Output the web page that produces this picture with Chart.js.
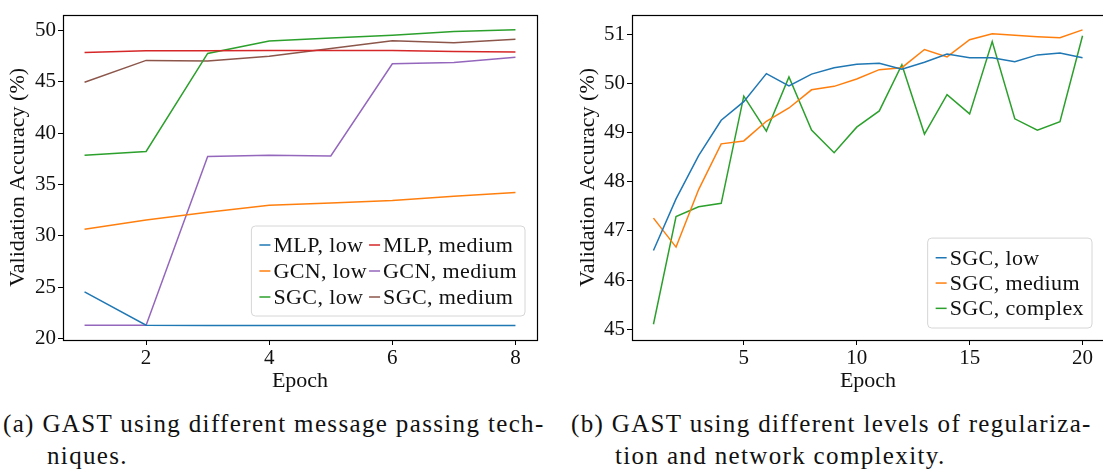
<!DOCTYPE html>
<html><head><meta charset="utf-8">
<script src="https://cdn.jsdelivr.net/npm/chart.js@4/dist/chart.umd.min.js"></script>
<style>
html,body{margin:0;padding:0;background:#fff;overflow:hidden;width:1103px;height:470px;}
#wrap{position:relative;width:1103px;height:470px;overflow:hidden;}
canvas{position:absolute;top:0;}
.cap{position:absolute;font-family:"Liberation Serif",serif;font-size:25px;letter-spacing:1.35px;color:#111;white-space:nowrap;line-height:1;}
</style></head><body>
<div id="wrap">
<canvas id="chartA" width="545" height="400" style="left:0"></canvas>
<canvas id="chartB" width="560" height="400" style="left:560px"></canvas>
<div class="cap" style="left:3px;top:411px">(a) GAST using different message passing tech-</div>
<div class="cap" style="left:47px;top:443px">niques.</div>
<div class="cap" style="left:571px;top:411px">(b) GAST using different levels of regulariza-</div>
<div class="cap" style="left:615px;top:443px">tion and network complexity.</div>
</div>
<script>
// ---- Data: chart (a) ----
const epochsA = [1, 2, 3, 4, 5, 6, 7, 8];
const mlpLow     = [24.55, 21.3, 21.28, 21.28, 21.28, 21.28, 21.28, 21.28];
const mlpMedium  = [47.85, 48.02, 48.03, 48.04, 48.04, 48.04, 47.95, 47.9];
const gcnLow     = [30.65, 31.55, 32.3, 32.98, 33.2, 33.45, 33.85, 34.22];
const gcnMedium  = [21.3, 21.3, 37.73, 37.85, 37.78, 46.75, 46.87, 47.38];
const sgcLowA    = [37.85, 38.22, 47.76, 48.98, 49.25, 49.53, 49.9, 50.06];
const sgcMediumA = [44.95, 47.08, 47.03, 47.48, 48.25, 49.0, 48.8, 49.15];
const xTicksA = [2, 4, 6, 8];
const yTicksA = [20, 25, 30, 35, 40, 45, 50];

// ---- Data: chart (b) ----
const epochsB = [1,2,3,4,5,6,7,8,9,10,11,12,13,14,15,16,17,18,19,20];
const sgcLowB     = [46.6, 47.65, 48.53, 49.25, 49.63, 50.2, 49.95, 50.19, 50.32, 50.39, 50.41, 50.29, 50.43, 50.6, 50.52, 50.52, 50.44, 50.58, 50.62, 50.52];
const sgcMediumB  = [47.26, 46.67, 47.84, 48.77, 48.83, 49.23, 49.5, 49.87, 49.94, 50.09, 50.28, 50.32, 50.69, 50.54, 50.89, 51.01, 50.98, 50.95, 50.93, 51.09];
const sgcComplexB = [45.1, 47.29, 47.49, 47.56, 49.74, 49.03, 50.13, 49.05, 48.59, 49.11, 49.44, 50.38, 48.97, 49.77, 49.38, 50.85, 49.28, 49.05, 49.22, 50.97];
const xTicksB = [5, 10, 15, 20];
const yTicksB = [45, 46, 47, 48, 49, 50, 51];

const C = {blue:'#1f77b4', orange:'#ff7f0e', green:'#2ca02c', red:'#d62728', purple:'#9467bd', brown:'#8c564b'};
const FONT = '"Liberation Serif", serif';
const TXT = '#111';

function pts(xs, ys){ return xs.map((x,i)=>({x:x, y:ys[i]})); }
function ds(label, xs, ys, color){
  return {label, data: pts(xs, ys), borderColor: color, backgroundColor: color,
          borderWidth: 1.5, pointRadius: 0, tension: 0, fill: false};
}

const frame = {
  id: 'frame',
  afterDatasetsDraw(chart){
    const a = chart.chartArea, ctx = chart.ctx;
    ctx.save(); ctx.strokeStyle = '#000'; ctx.lineWidth = 1.2;
    ctx.strokeRect(Math.round(a.left)+0.5, Math.round(a.top)+0.5, Math.round(a.right-a.left), Math.round(a.bottom-a.top));
    ctx.restore();
  }
};

// custom matplotlib-style legend: columns of dataset indices, drawn inside the plot
function legendPlugin(cfg){
  return {
    id: 'mplLegend',
    afterDraw(chart){
      const ctx = chart.ctx, a = chart.chartArea, dsets = chart.data.datasets;
      ctx.save();
      ctx.font = cfg.fontSize + 'px ' + FONT;
      if ('letterSpacing' in ctx) ctx.letterSpacing = cfg.spacing + 'px';
      const colW = cfg.columns.map(col => Math.max(...col.map(i => ctx.measureText(dsets[i].label).width)));
      const handle = 11, gap = 3, colGap = cfg.colGap, padX = 8, padY = cfg.padY;
      let w = padX*2 + cfg.columns.length*(handle+gap) + colW.reduce((s,v)=>s+v,0) + colGap*(cfg.columns.length-1);
      const rows = Math.max(...cfg.columns.map(c=>c.length));
      const h = padY*2 + rows*cfg.rowH;
      const x0 = a.right - cfg.right - w, y0 = a.bottom - cfg.bottom - h;
      ctx.beginPath();
      const r = 4;
      ctx.moveTo(x0+r, y0); ctx.lineTo(x0+w-r, y0); ctx.quadraticCurveTo(x0+w, y0, x0+w, y0+r);
      ctx.lineTo(x0+w, y0+h-r); ctx.quadraticCurveTo(x0+w, y0+h, x0+w-r, y0+h);
      ctx.lineTo(x0+r, y0+h); ctx.quadraticCurveTo(x0, y0+h, x0, y0+h-r);
      ctx.lineTo(x0, y0+r); ctx.quadraticCurveTo(x0, y0, x0+r, y0); ctx.closePath();
      ctx.fillStyle = 'rgba(255,255,255,0.8)'; ctx.fill();
      ctx.strokeStyle = '#d6d6d6'; ctx.lineWidth = 1; ctx.stroke();
      let cx = x0 + padX;
      cfg.columns.forEach((col, ci) => {
        col.forEach((idx, ri) => {
          const cy = y0 + padY + ri*cfg.rowH + cfg.rowH/2;
          ctx.strokeStyle = dsets[idx].borderColor; ctx.lineWidth = 1.5;
          ctx.beginPath(); ctx.moveTo(cx, cy); ctx.lineTo(cx+handle, cy); ctx.stroke();
          ctx.fillStyle = TXT; ctx.textBaseline = 'middle'; ctx.textAlign = 'left';
          ctx.fillText(dsets[idx].label, cx + handle + gap, cy + 1);
        });
        cx += handle + gap + colW[ci] + colGap;
      });
      ctx.restore();
    }
  };
}

function makeOptions(o){
  return {
    responsive: false, animation: false,
    layout: {padding: {left: 0, right: o.padRight, top: o.padTop, bottom: 0}},
    plugins: {legend: {display: false}, tooltip: {enabled: false}},
    scales: {
      x: {
        type: 'linear', min: o.xMin, max: o.xMax,
        afterBuildTicks: s => { s.ticks = o.xTicks.map(v => ({value: v})); },
        afterFit: s => { s.height = o.xAxisH; },
        grid: {drawOnChartArea: false, drawTicks: true, tickLength: 5, tickColor: '#000', tickWidth: 1},
        border: {display: false},
        ticks: {color: TXT, font: {family: FONT, size: 21}, padding: 1, maxRotation: 0, autoSkip: false},
        title: {display: true, text: 'Epoch', color: TXT, font: {family: FONT, size: 22}, padding: {top: 0, bottom: o.xTitlePad}}
      },
      y: {
        type: 'linear', min: o.yMin, max: o.yMax,
        afterBuildTicks: s => { s.ticks = o.yTicks.map(v => ({value: v})); },
        afterFit: s => { s.width = o.yAxisW; },
        grid: {drawOnChartArea: false, drawTicks: true, tickLength: 5, tickColor: '#000', tickWidth: 1},
        border: {display: false},
        ticks: {color: TXT, font: {family: FONT, size: 21}, padding: 2, autoSkip: false},
        title: {display: true, text: 'Validation Accuracy (%)', color: TXT, font: {family: FONT, size: 22}, padding: {top: o.yTitlePad, bottom: 0}}
      }
    }
  };
}

new Chart(document.getElementById('chartA'), {
  type: 'line',
  data: {datasets: [
    ds('MLP, low', epochsA, mlpLow, C.blue),
    ds('MLP, medium', epochsA, mlpMedium, C.red),
    ds('GCN, low', epochsA, gcnLow, C.orange),
    ds('GCN, medium', epochsA, gcnMedium, C.purple),
    ds('SGC, low', epochsA, sgcLowA, C.green),
    ds('SGC, medium', epochsA, sgcMediumA, C.brown)
  ]},
  options: makeOptions({padRight: 8, padTop: 7, xMin: 0.65, xMax: 8.35, yMin: 19.86, yMax: 51.54,
    xTicks: xTicksA, yTicks: yTicksA, xAxisH: 60, yAxisW: 63, xTitlePad: 6, yTitlePad: 5}),
  plugins: [frame, legendPlugin({columns: [[0,2,4],[1,3,5]], fontSize: 22, spacing: 0.4, padY: 6, rowH: 26, colGap: 2, right: 12, bottom: 24})]
});

new Chart(document.getElementById('chartB'), {
  type: 'line',
  data: {datasets: [
    ds('SGC, low', epochsB, sgcLowB, C.blue),
    ds('SGC, medium', epochsB, sgcMediumB, C.orange),
    ds('SGC, complex', epochsB, sgcComplexB, C.green)
  ]},
  options: makeOptions({padRight: 16, padTop: 8, xMin: 0.05, xMax: 20.95, yMin: 44.78, yMax: 51.40,
    xTicks: xTicksB, yTicks: yTicksB, xAxisH: 60, yAxisW: 72, xTitlePad: 6, yTitlePad: 15}),
  plugins: [frame, legendPlugin({columns: [[0,1,2]], fontSize: 22, spacing: 0.4, padY: 7, rowH: 25.3, colGap: 0, right: 12, bottom: 12})]
});
</script>
</body></html>
